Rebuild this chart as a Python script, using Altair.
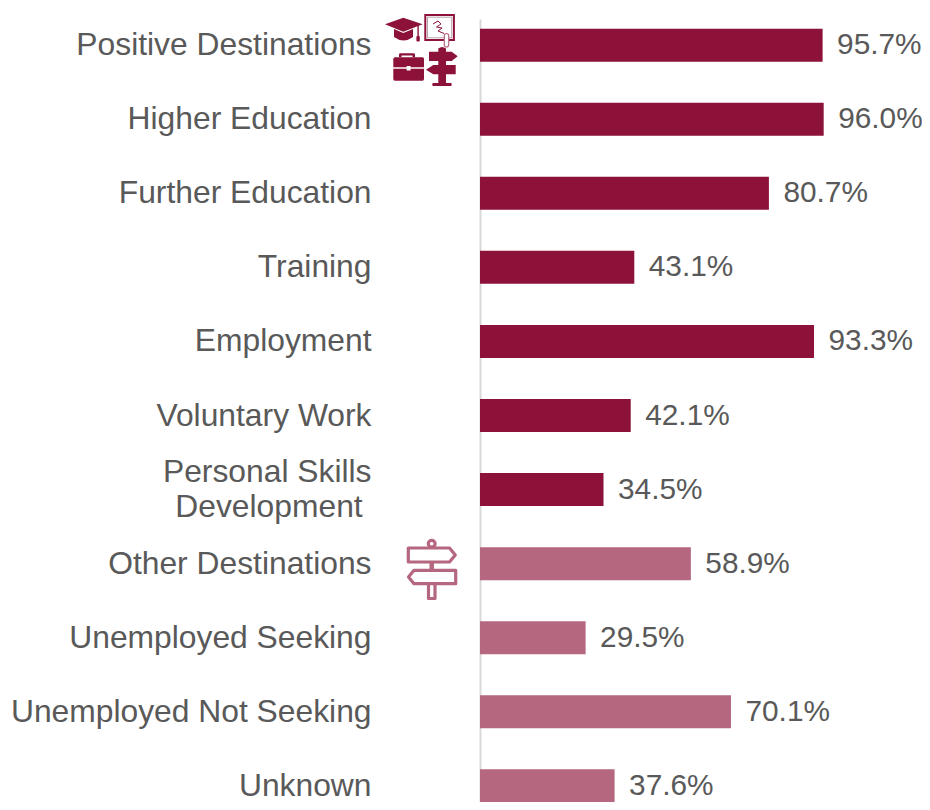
import urllib.parse
import altair as alt
import pandas as pd

categories = ["Positive Destinations", "Higher Education", "Further Education", "Training",
              "Employment", "Voluntary Work", "Personal Skills\nDevelopment\u00a0\u200b", "Other Destinations",
              "Unemployed Seeking", "Unemployed Not Seeking", "Unknown"]
values = [95.7, 96.0, 80.7, 43.1, 93.3, 42.1, 34.5, 58.9, 29.5, 70.1, 37.6]
groups = ["pos"] * 7 + ["oth"] * 4
DARK = "#8C1239"
LIGHT = "#B5677F"
TEXT = "#595959"
FONT = "Liberation Sans"

df = pd.DataFrame({"cat": categories, "val": values, "grp": groups,
                   "lab": [f"{v:.1f}%" for v in values]})

icon_pos = f'''<svg xmlns="http://www.w3.org/2000/svg" width="75" height="76" viewBox="385 12 75 76">
<g fill="{DARK}">
<path d="M385 24.3 L403.3 17.7 L422.7 24.3 L403.3 31.7Z"/>
<path d="M394 29 L403.3 33 L413 29 V37 Q403.5 44 394 37Z"/>
<rect x="417.4" y="24" width="1.4" height="13"/><rect x="416.4" y="36" width="3.4" height="5.5" rx="1"/>
<path d="M399 57.3 V54.5 Q399 53.3 400.5 53.3 H413.5 Q415 53.3 415 54.5 V57.3 H412.5 V55.6 H401.5 V57.3Z"/>
<path d="M395 57.3 H422.5 Q424 57.3 424 59 V67.3 H410.6 V66 H406.6 V67.3 H393.3 V59 Q393.3 57.3 395 57.3Z"/>
<path d="M393.3 68.8 H406.6 V70.5 H410.6 V68.8 H424 V79 Q424 80.7 422.5 80.7 H395 Q393.3 80.7 393.3 79Z"/>
<path d="M438.3 51.7 V48.5 Q442 45.5 446 48.5 V51.7 H451.7 L457.7 56.3 L451.7 61 H429 V51.7Z"/>
<path d="M438.3 61 H446 V65 H455.7 V74.3 H446 V83 H438.3 V74.3 H433.3 L426 69.7 L433.3 65 H438.3Z"/>
<rect x="432.3" y="83" width="19.4" height="3" rx="1"/>
</g>
<rect x="425.3" y="15" width="28.6" height="25" fill="#fff" stroke="{DARK}" stroke-width="2"/>
<rect x="427.5" y="17.2" width="24.2" height="20.6" fill="#fff" stroke="#b9a3ab" stroke-width="1"/>
<path d="M433 24 L438 21 L441 24 L436.5 27 L442 28 L438 31 L444 33.5" fill="none" stroke="{DARK}" stroke-width="1"/>
<rect x="444.3" y="33.5" width="4.4" height="13.5" rx="2.2" fill="#fff" stroke="{LIGHT}" stroke-width="1.2"/>
</svg>'''

icon_oth = f'''<svg xmlns="http://www.w3.org/2000/svg" width="60" height="68" viewBox="402 546 60 68">
<g fill="none" stroke="{LIGHT}" stroke-width="3.2" stroke-linejoin="round">
<circle cx="431.7" cy="551.7" r="3.4"/>
<path d="M408.3 556 H449.5 L455.3 563 L449.5 570 H408.3Z"/>
<path d="M455.7 578.3 H414 L408.5 585 L414 591.7 H455.7Z"/>
<path d="M428.5 593 V606.5 H435 V593"/>
<path d="M431.7 570 V578" stroke-width="4.5"/>
</g>
</svg>'''


def uri(svg):
    return "data:image/svg+xml," + urllib.parse.quote(svg)


y_enc = alt.Y("cat:N", sort=categories, title=None,
              scale=alt.Scale(range=[11, 804], paddingInner=0.56, paddingOuter=0.133),
              axis=alt.Axis(domainColor="#D9D9D9", domainWidth=2, ticks=False, grid=False,
                            labelFont=FONT, labelFontSize=31.8, labelColor=TEXT, labelPadding=109,
                            labelLimit=0, labelLineHeight=35, labelOverlap=False,
                            labelOffset={"condition": {"test": "indexof(datum.label, 'Personal') >= 0", "value": -17.5},
                                         "value": 0},
                            labelExpr="split(datum.label, '\\n')"))
x_enc = alt.X("val:Q", scale=alt.Scale(domain=[0, 100]), axis=None)

bars = alt.Chart(df).mark_bar(size=33, cornerRadius=0).encode(
    y=y_enc, x=x_enc,
    color=alt.Color("grp:N", scale=alt.Scale(domain=["pos", "oth"], range=[DARK, LIGHT]), legend=None))
labels = alt.Chart(df).mark_text(align="left", baseline="middle", dx=14.5, font=FONT, fontSize=29.8,
                                 color=TEXT).encode(y=y_enc, x=x_enc, text="lab:N")
ic1 = alt.Chart(pd.DataFrame({"u": [uri(icon_pos)]})).mark_image(width=75, height=76).encode(
    url="u:N", x=alt.value(422.5 - 480), y=alt.value(50 - 8))
ic2 = alt.Chart(pd.DataFrame({"u": [uri(icon_oth)]})).mark_image(width=60, height=68).encode(
    url="u:N", x=alt.value(432 - 480), y=alt.value(572 - 8))

chart = alt.layer(bars, labels, ic1, ic2).properties(
    width=358, height=794,
    padding={"left": 472, "top": 0, "right": 84, "bottom": 0},
    autosize=alt.AutoSizeParams(type="none"),
).configure_view(stroke=None)
chart.save("out.html", embed_options={"renderer": "svg", "actions": False})
